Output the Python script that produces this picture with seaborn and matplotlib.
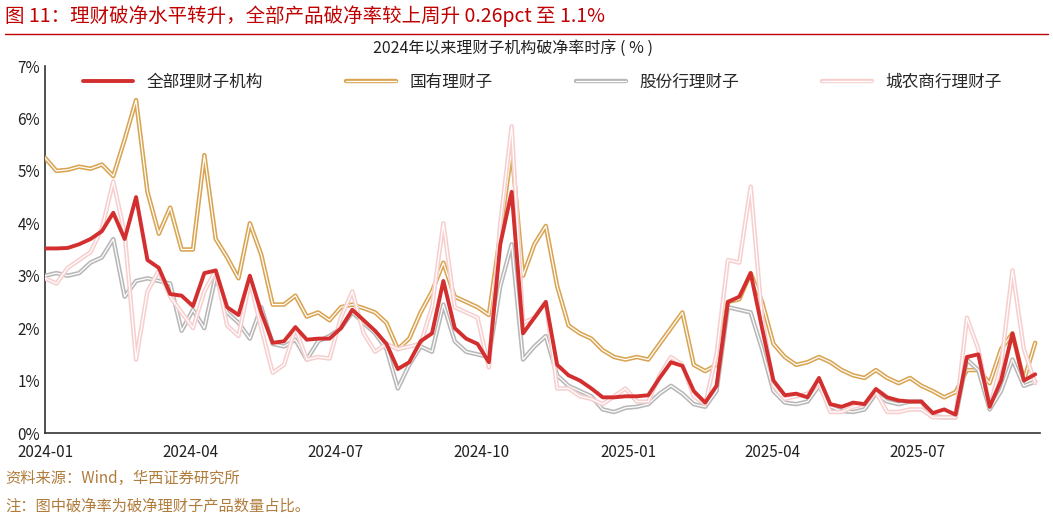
import numpy as np
import pandas as pd
import matplotlib
matplotlib.use("Agg")
import matplotlib.pyplot as plt
import matplotlib.dates as mdates
import matplotlib.patheffects as pe
import seaborn as sns

all_inst = [3.52,3.52,3.53,3.6,3.7,3.85,4.2,3.7,4.5,3.3,3.15,2.65,2.62,2.42,3.05,3.1,2.4,2.25,3.0,2.3,
            1.72,1.75,2.02,1.78,1.8,1.8,2.0,2.35,2.15,1.95,1.7,1.22,1.35,1.75,1.9,2.9,2.0,1.8,1.7,1.35,
            3.6,4.6,1.9,2.2,2.5,1.3,1.1,1.0,0.85,0.68,0.68,0.7,0.7,0.72,1.05,1.35,1.28,0.8,0.58,0.9,
            2.5,2.6,3.05,2.0,1.0,0.72,0.75,0.68,1.05,0.55,0.5,0.58,0.55,0.84,0.68,0.62,0.6,0.6,0.38,0.45,
            0.35,1.45,1.5,0.5,1.0,1.9,1.0,1.12]
state = [5.25,5.0,5.02,5.08,5.04,5.12,4.9,5.6,6.35,4.6,3.8,4.3,3.5,3.5,5.3,3.7,3.35,2.95,4.0,3.4,
         2.45,2.45,2.62,2.22,2.3,2.15,2.4,2.45,2.38,2.3,2.1,1.6,1.8,2.3,2.7,3.25,2.6,2.5,2.4,2.25,
         3.8,5.4,3.0,3.6,3.95,2.8,2.05,1.9,1.8,1.58,1.45,1.4,1.45,1.4,1.7,2.0,2.3,1.3,1.18,1.3,
         2.5,2.55,3.05,2.5,1.7,1.45,1.3,1.35,1.45,1.35,1.2,1.1,1.05,1.2,1.05,0.95,1.05,0.9,0.8,0.68,
         0.78,1.2,1.2,0.95,1.6,1.9,1.0,1.72]
joint = [3.0,3.05,3.0,3.05,3.25,3.35,3.7,2.6,2.9,2.95,2.9,2.85,1.95,2.35,2.0,3.0,2.3,2.1,1.8,2.4,
         1.7,1.65,1.78,1.4,1.75,1.85,2.0,2.3,2.1,1.9,1.6,0.85,1.3,1.65,1.55,2.45,1.75,1.55,1.5,1.45,
         2.8,3.6,1.4,1.65,1.85,1.1,0.9,0.8,0.7,0.45,0.4,0.48,0.5,0.55,0.75,0.9,0.75,0.55,0.5,0.8,
         2.4,2.35,2.3,1.6,0.8,0.58,0.55,0.6,0.9,0.5,0.42,0.4,0.45,0.75,0.6,0.55,0.6,0.6,0.32,0.3,
         0.3,1.4,1.2,0.45,0.8,1.4,0.9,0.98]
rural = [2.95,2.85,3.15,3.3,3.45,3.9,4.8,3.8,1.4,2.7,3.1,2.6,2.3,2.0,2.7,3.1,2.05,1.85,2.9,2.0,
         1.15,1.3,2.0,1.4,1.45,1.42,2.2,2.7,1.9,1.55,1.7,1.6,1.65,1.7,2.4,4.0,2.4,2.3,2.2,1.25,
         4.0,5.85,2.1,2.2,2.5,0.85,0.85,0.7,0.65,0.55,0.7,0.85,0.6,0.6,1.1,1.45,1.3,0.7,0.55,1.5,
         3.3,3.25,4.7,2.2,0.9,0.65,0.7,0.75,0.95,0.4,0.4,0.5,0.55,0.78,0.4,0.4,0.45,0.45,0.3,0.3,
         0.3,2.2,1.6,0.5,1.3,3.1,1.6,0.95]
dates = pd.date_range("2024-01-01", "2025-09-13", periods=len(all_inst))
names = ["全部理财子机构", "国有理财子", "股份行理财子", "城农商行理财子"]
colors = ["#d32f2f", "#d9a553", "#b8b8b8", "#f7cfcf"]

sns.set_style("white")
plt.rcParams["font.family"] = ["Noto Sans CJK SC", "DejaVu Sans"]
plt.rcParams["axes.unicode_minus"] = False

fig = plt.figure(figsize=(10.53, 5.2), dpi=100)
ax = fig.add_axes([45/1053, 87/520, 995/1053, 367/520])

series = [all_inst, state, joint, rural]
order = [3, 2, 1, 0]
for k in order:
    df = pd.DataFrame({"date": dates, "v": series[k]})
    if k == 0:
        sns.lineplot(data=df, x="date", y="v", ax=ax, color=colors[k], lw=2.8, label=names[k], zorder=5)
    else:
        sns.lineplot(data=df, x="date", y="v", ax=ax, color="white", lw=0.9, label=names[k], zorder=2+k,
                     path_effects=[pe.Stroke(linewidth=3.2, foreground=colors[k]), pe.Normal()])

ax.set_ylim(0, 7)
ax.set_xlim(pd.Timestamp("2024-01-01"), pd.Timestamp("2025-09-16"))
ax.set_yticks(range(0, 8))
ax.set_yticklabels([f"{i}%" for i in range(8)])
ax.xaxis.set_major_locator(mdates.MonthLocator(bymonth=[1, 4, 7, 10]))
ax.xaxis.set_major_formatter(mdates.DateFormatter("%Y-%m"))
ax.set_xlabel(""); ax.set_ylabel("")
for s in ["top", "right"]:
    ax.spines[s].set_visible(False)
for s in ["left", "bottom"]:
    ax.spines[s].set_color("#333333"); ax.spines[s].set_linewidth(1.2)
ax.tick_params(direction="in", length=4, labelsize=11, colors="#222222", width=1)
ax.tick_params(axis="x", pad=8)

h, l = ax.get_legend_handles_labels()
idx = [l.index(n) for n in names]
ax.legend([h[i] for i in idx], [l[i] for i in idx], ncol=4, loc="upper center",
          bbox_to_anchor=(0.5, 1.02), frameon=False, fontsize=12, handlelength=3,
          columnspacing=5.0)

fig.text(0.487, 0.905, "2024年以来理财子机构破净率时序 ( % )", ha="center", va="center", fontsize=11.5, color="#222222")
fig.text(0.005, 0.968, "图 11：理财破净水平转升，全部产品破净率较上周升 0.26pct 至 1.1%", ha="left", va="center",
         fontsize=14, color="#c00000")
fig.add_artist(plt.Line2D([0.005, 0.995], [0.935, 0.935], color="#c00000", lw=1))
fig.text(0.005, 0.08, "资料来源：Wind，华西证券研究所", ha="left", va="center", fontsize=11, color="#b07c3c")
fig.text(0.005, 0.027, "注：图中破净率为破净理财子产品数量占比。", ha="left", va="center", fontsize=11, color="#b07c3c")

fig.savefig("out.png", dpi=100)
